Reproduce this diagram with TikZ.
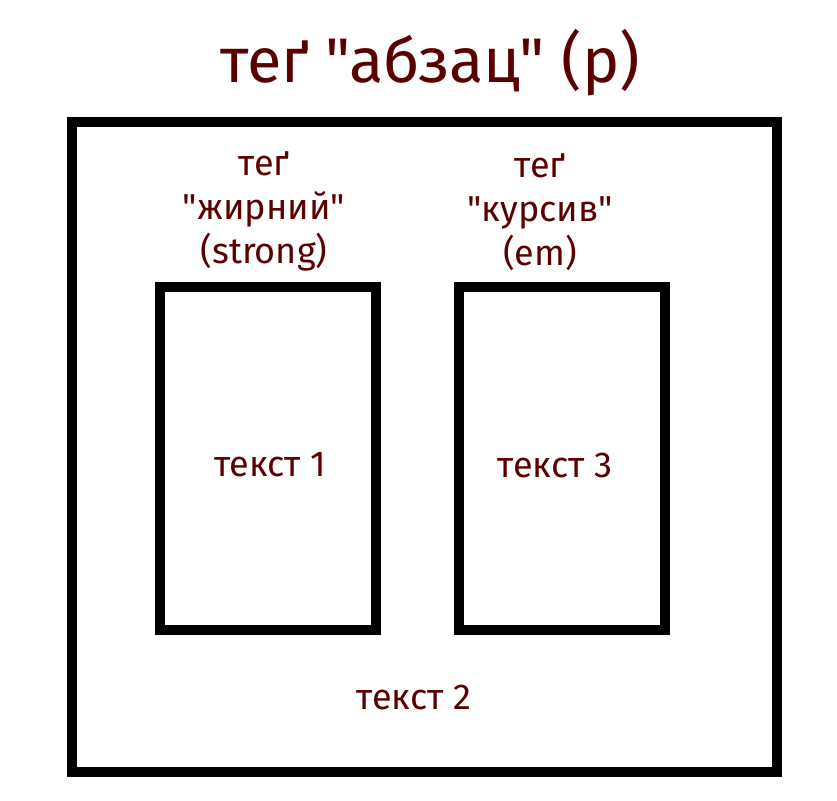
\documentclass[tikz,border=0pt]{standalone}
\usepackage{fontspec}
\setmainfont{Fira Sans}[Ligatures=TeXOff]
\definecolor{tagred}{RGB}{90,0,0}
\tikzset{
  tagbox/.style={draw=black, line width=5pt, minimum width=#1},
  tagtext/.style={text=tagred, font=\fontsize{18}{22}\selectfont, align=center},
}
\begin{document}
\begin{tikzpicture}[x=0.5pt, y=-0.5pt]
                % Canvas
                \useasboundingbox (0,0) rectangle (837,800);
                % Title
                \node[tagtext, font=\fontsize{31.5}{38}\selectfont] (title) at (430,63) {теґ "абзац" (р)};
                % Paragraph box
                \node[tagbox=352.5pt, minimum height=325pt] (para) at (424.5,447) {};
                % Inner boxes
                \node[tagbox=108pt, minimum height=171.5pt] (strong) at (268,458.5) {};
                \node[tagbox=103pt, minimum height=171.5pt] (em) at (562,458.5) {};
                % Labels
                \node[tagtext, anchor=south] (strongtag) at (264,278) {теґ\\"жирний"\\(strong)};
                \node[tagtext, anchor=south] (emtag) at (540,278) {теґ\\"курсив"\\(em)};
                \node[tagtext] (text1) at (270,465) {текст 1};
                \node[tagtext] (text3) at (555,465) {текст 3};
                \node[tagtext] (text2) at (414,697) {текст 2};
\end{tikzpicture}
\end{document}
